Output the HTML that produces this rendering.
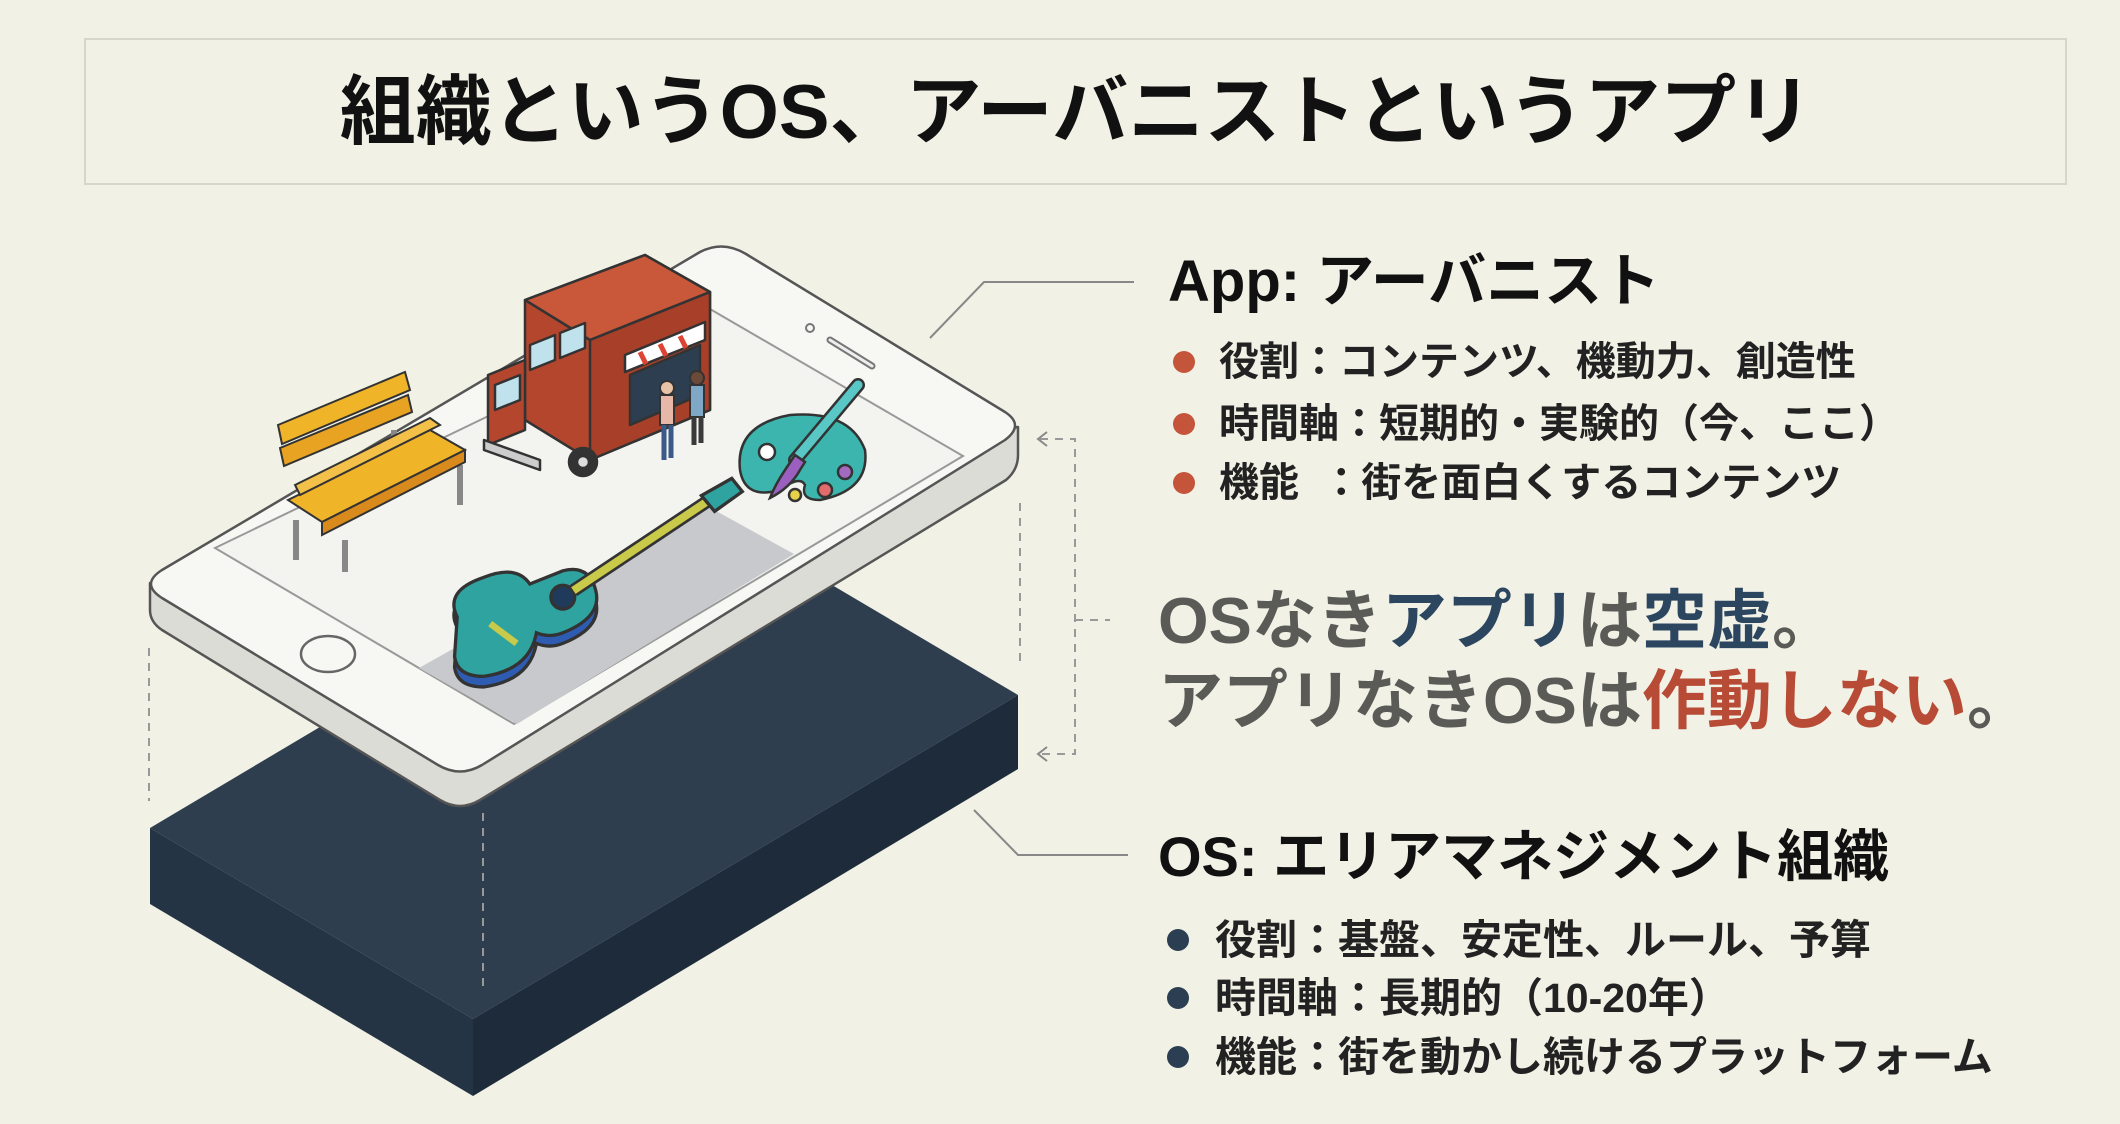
<!DOCTYPE html>
<html><head><meta charset="utf-8"><style>
html,body{margin:0;padding:0;}
body{width:2120px;height:1124px;background:#f1f1e6;overflow:hidden;position:relative;font-family:"Liberation Sans","Noto Sans CJK JP",sans-serif;}
.t{position:absolute;white-space:nowrap;font-family:"Liberation Sans","Noto Sans CJK JP",sans-serif;}
.box{position:absolute;left:84px;top:38px;width:1983px;height:147px;border:2px solid #d6d6cc;box-sizing:border-box;}
.title{left:0;width:2152px;text-align:center;top:68px;font-size:76px;font-weight:bold;color:#111;line-height:90px;}
.h{font-size:56px;font-weight:bold;color:#111;line-height:64px;}
.b{font-size:40px;font-weight:bold;color:#222;line-height:46px;}
.dot{position:absolute;width:22px;height:22px;border-radius:50%;}
.tag{font-size:65px;font-weight:bold;color:#5a5a57;line-height:76px;}
</style></head><body>
<div class="box"></div>
<div class="t title">組織というOS、アーバニストというアプリ</div>

<svg width="2120" height="1124" style="position:absolute;left:0;top:0">
 <polygon points="150,828 695,504 1018,695 473,1019" fill="#2e3e4f"/>
 <polygon points="150,828 473,1019 473,1096 150,904" fill="#243445"/>
 <polygon points="473,1019 1018,695 1018,769 473,1096" fill="#1e2b3a"/>
 <g stroke="#999" stroke-width="2" stroke-dasharray="8,7" fill="none">
  <line x1="149" y1="648" x2="149" y2="801"/>
  <line x1="483" y1="813" x2="483" y2="990"/>
  <line x1="1020" y1="503" x2="1020" y2="665"/>
  <polyline points="1040,439 1075,439 1075,754 1040,754"/>
  <line x1="1075" y1="620" x2="1110" y2="620"/>
 </g>
 <g stroke="#888" stroke-width="2" fill="none">
  <polyline points="1047,432 1038,439 1047,446"/>
  <polyline points="1047,747 1038,754 1047,761"/>
  <polyline points="930,338 984,282 1134,282"/>
  <polyline points="974,810 1018,855 1128,855"/>
 </g>
 <path d="M150,583 L150,610 Q150,622 162,630 L440,800 Q460,812 480,800 L1006,480 Q1018,470 1018,455 L1018,427 Z" fill="#dcdcd6" stroke="#555" stroke-width="2.5" stroke-linejoin="round"/>
 <path d="M162,570 L700,252 Q723,240 746,254 L1005,412 Q1025,425 1005,440 L482,765 Q460,778 438,765 L162,598 Q140,584 162,570 Z" fill="#f7f7f3" stroke="#555" stroke-width="2.5" stroke-linejoin="round"/>
 <polygon points="215,548 710,309 963,456 514,724" fill="#f3f3f0" stroke="#999" stroke-width="2"/>
 <polygon points="707,506 794,554 517,724 419,668" fill="#c7c9cd"/>
 <ellipse cx="328" cy="654" rx="27" ry="18" fill="none" stroke="#666" stroke-width="2.5"/>
 <line x1="830" y1="340" x2="872" y2="366" stroke="#777" stroke-width="7" stroke-linecap="round"/>
 <line x1="830" y1="340" x2="872" y2="366" stroke="#eee" stroke-width="3" stroke-linecap="round"/>
 <circle cx="810" cy="328" r="4" fill="none" stroke="#777" stroke-width="2"/>
 <g stroke="#333" stroke-width="2">
  <line x1="296" y1="520" x2="296" y2="560" stroke="#888" stroke-width="6"/>
  <line x1="345" y1="540" x2="345" y2="572" stroke="#888" stroke-width="6"/>
  <line x1="460" y1="465" x2="460" y2="505" stroke="#888" stroke-width="6"/>
  <line x1="394" y1="430" x2="394" y2="460" stroke="#888" stroke-width="6"/>
  <polygon points="278,425 405,372 410,390 282,444" fill="#f0b429"/>
  <polygon points="280,448 408,395 412,412 284,466" fill="#e8a323"/>
  <polygon points="288,500 430,430 465,450 322,522" fill="#f0b429"/>
  <polygon points="322,522 465,450 465,462 322,535" fill="#d88a1c"/>
  <polygon points="295,485 430,418 440,425 300,495" fill="#f3c04a"/>
 </g>
 <g stroke="#333" stroke-width="2.5" stroke-linejoin="round">
  <polygon points="525,300 645,255 710,292 710,410 590,460 525,420" fill="#b5462e"/>
  <polygon points="525,300 645,255 710,292 590,340" fill="#c9573a"/>
  <polygon points="590,340 710,292 710,410 590,460" fill="#a83f29"/>
  <polygon points="530,345 555,335 555,360 530,370" fill="#bfe2ec"/>
  <polygon points="560,333 585,323 585,348 560,358" fill="#bfe2ec"/>
  <polygon points="625,355 705,322 705,340 625,372" fill="#fff"/>
  <polygon points="630,375 700,345 700,395 630,425" fill="#2d3e50"/>
  <polygon points="488,375 525,360 525,430 488,445" fill="#b5462e"/>
  <polygon points="495,385 520,375 520,400 495,410" fill="#bfe2ec"/>
  <circle cx="583" cy="462" r="14" fill="#333"/><circle cx="583" cy="462" r="6" fill="#ddd"/>
  <polygon points="484,440 540,460 540,470 484,450" fill="#ccc"/>
 </g>
 <g stroke="#d43" stroke-width="5"><line x1="640" y1="352" x2="646" y2="364"/><line x1="660" y1="344" x2="666" y2="356"/><line x1="680" y1="336" x2="686" y2="348"/></g>
 <g stroke="#333" stroke-width="2">
  <rect x="660" y="395" width="14" height="30" fill="#e7b8a8"/>
  <line x1="664" y1="425" x2="664" y2="460" stroke="#3a5b8a" stroke-width="5"/><line x1="671" y1="425" x2="671" y2="458" stroke="#3a5b8a" stroke-width="5"/>
  <circle cx="667" cy="388" r="7" fill="#e9c3a5"/>
  <rect x="690" y="385" width="14" height="32" fill="#7fa8c6"/>
  <line x1="694" y1="417" x2="694" y2="445" stroke="#3a3a3a" stroke-width="5"/><line x1="701" y1="417" x2="701" y2="443" stroke="#3a3a3a" stroke-width="5"/>
  <circle cx="697" cy="378" r="7" fill="#6b4a3a"/>
 </g>
 <g stroke="#333" stroke-width="2.5">
  <path d="M740,470 Q735,425 790,415 Q850,410 865,450 Q870,490 820,500 Q800,500 805,485 Q800,475 780,490 Q745,500 740,470 Z" fill="#3bb5ae"/>
  <circle cx="767" cy="452" r="8" fill="#fff"/>
  <circle cx="845" cy="472" r="7" fill="#a36ac0"/>
  <circle cx="825" cy="490" r="7" fill="#e26b6b"/>
  <circle cx="795" cy="495" r="6" fill="#e8d24a"/>
  <line x1="858" y1="385" x2="795" y2="460" stroke="#333" stroke-width="14" stroke-linecap="round"/>
  <line x1="858" y1="385" x2="795" y2="460" stroke="#58c7c5" stroke-width="9" stroke-linecap="round"/>
  <path d="M795,455 L785,470 Q775,485 770,498 Q790,488 800,470 L805,462 Z" fill="#9b5fc0"/>
 </g>
 <g stroke="#333" stroke-width="2.5" transform="translate(-150,-175) scale(1.32)">
  <path d="M460,600 Q450,580 480,570 Q505,560 515,575 L540,565 Q560,560 565,580 Q570,600 540,612 Q530,616 520,612 Q515,640 480,645 Q460,645 458,630 Z" fill="#2f5cb3" transform="translate(0,8)"/>
  <path d="M460,600 Q450,580 480,570 Q505,560 515,575 L540,565 Q560,560 565,580 Q570,600 540,612 Q530,616 520,612 Q515,640 480,645 Q460,645 458,630 Z" fill="#2ea3a0"/>
  <circle cx="540" cy="585" r="9" fill="#1f3a5a"/>
  <line x1="548" y1="580" x2="650" y2="512" stroke="#333" stroke-width="10"/>
  <line x1="548" y1="580" x2="650" y2="512" stroke="#c9c94a" stroke-width="6"/>
  <polygon points="645,508 668,495 676,505 655,520" fill="#2ea3a0"/>
  <line x1="485" y1="605" x2="505" y2="620" stroke="#c9c94a" stroke-width="5"/>
 </g>
</svg>

<div class="t h" style="left:1168px;top:250px;font-size:58px;">App: アーバニスト</div>
<div class="dot" style="left:1173px;top:351px;background:#c4553a"></div>
<div class="dot" style="left:1173px;top:413px;background:#c4553a"></div>
<div class="dot" style="left:1173px;top:472px;background:#c4553a"></div>
<div class="t b" style="left:1219px;top:339px;">役割：コンテンツ、機動力、創造性</div>
<div class="t b" style="left:1219px;top:401px;">時間軸：短期的・実験的（今、ここ）</div>
<div class="t b" style="left:1219px;top:460px;">機能&nbsp;&nbsp;：街を面白くするコンテンツ</div>

<div class="t tag" style="left:1158px;top:583px;">OSなき<span style="color:#2d4660">アプリ</span>は<span style="color:#2d4660">空虚</span>。</div>
<div class="t tag" style="left:1158px;top:663px;">アプリなきOSは<span style="color:#b84b35">作動しない</span>。</div>

<div class="t h" style="left:1158px;top:825px;">OS: エリアマネジメント組織</div>
<div class="dot" style="left:1167px;top:929px;background:#2c3e52"></div>
<div class="dot" style="left:1167px;top:987px;background:#2c3e52"></div>
<div class="dot" style="left:1167px;top:1046px;background:#2c3e52"></div>
<div class="t b" style="left:1215px;top:917px;font-size:41px;">役割：基盤、安定性、ルール、予算</div>
<div class="t b" style="left:1215px;top:975px;font-size:41px;">時間軸：長期的（10-20年）</div>
<div class="t b" style="left:1215px;top:1034px;font-size:41px;">機能：街を動かし続けるプラットフォーム</div>
</body></html>
